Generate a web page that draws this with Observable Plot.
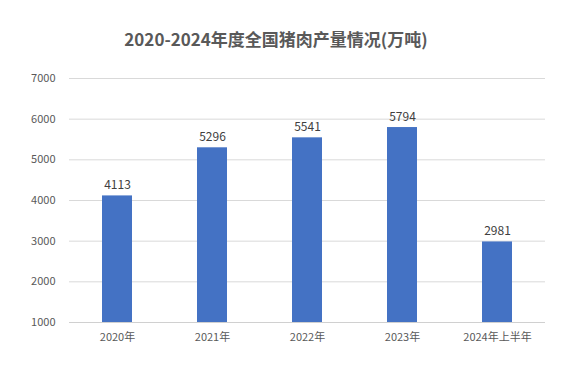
<!DOCTYPE html>
<html><head><meta charset="utf-8">
<script src="https://cdn.jsdelivr.net/npm/d3@7"></script>
<script src="https://cdn.jsdelivr.net/npm/@observablehq/plot@0.6"></script>
<style>
body{margin:0;background:#fff;font-family:"Noto Sans CJK SC","Noto Sans",sans-serif;}
#title{width:552px;height:60px;line-height:78px;text-align:center;font-size:17px;font-weight:bold;color:#595959;}
</style></head>
<body>
<div id="title">2020-2024年度全国猪肉产量情况(万吨)</div>
<div id="chart"></div>
<script>
const categories = ["2020年","2021年","2022年","2023年","2024年上半年"];
const values = [4113, 5296, 5541, 5794, 2981];
const yTicks = [1000,2000,3000,4000,5000,6000,7000];
const data = categories.map((c,i)=>({cat:c, value:values[i]}));
const chart = Plot.plot({
  width:574, height:311,
  marginTop:18, marginBottom:49, marginLeft:69, marginRight:29,
  style:{fontFamily:'"Noto Sans CJK SC","Noto Sans",sans-serif', fontSize:"11px", color:"#595959", background:"#fff"},
  x:{domain:categories, paddingInner:0.68, paddingOuter:0.34, label:null},
  y:{domain:[1000,7000], label:null},
  marks:[
    Plot.ruleY(yTicks.slice(1), {stroke:"#d9d9d9", strokeWidth:1}),
    Plot.ruleY([1000], {stroke:"#d0d0d0", strokeWidth:1}),
    Plot.barY(data, {x:"cat", y1:1000, y2:"value", fill:"#4472C4"}),
    Plot.text(data, {x:"cat", y:"value", text:d=>String(d.value), lineAnchor:"bottom", dy:-7, fill:"#404040", fontSize:12}),
    Plot.axisY({ticks:yTicks, tickSize:0, tickPadding:14, tickFormat:d=>String(d), fontSize:11, fill:"#595959"}),
    Plot.axisX({tickSize:0, tickPadding:11, fontSize:11, fill:"#595959"})
  ]
});
document.getElementById("chart").appendChild(chart);
</script>
</body></html>
